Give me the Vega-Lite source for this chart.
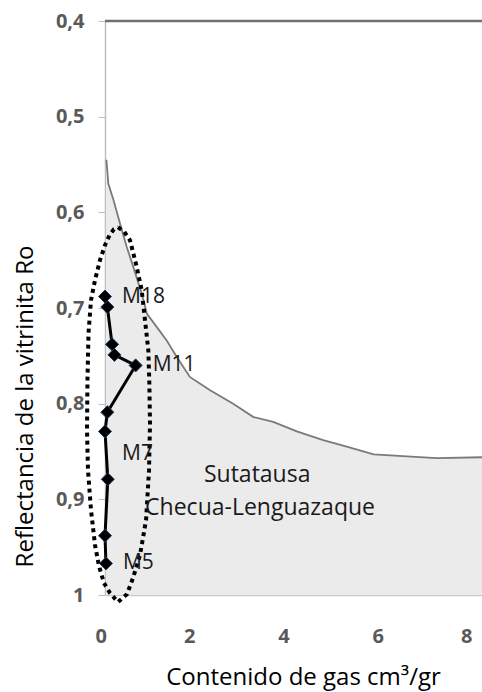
{
  "$schema": "https://vega.github.io/schema/vega-lite/v6.json",
  "width": 377,
  "height": 574,
  "autosize": "none",
  "padding": {"left": 105, "top": 21, "right": 0, "bottom": 97},
  "config": {
    "view": {"stroke": null},
    "font": "Open Sans",
    "locale": {"number": {"decimal": ",", "thousands": ".", "grouping": [3], "currency": ["", " €"]}}
  },
  "datasets": {
    "curve": [
      {"gas": 0.03, "ro": 0.545},
      {"gas": 0.07, "ro": 0.570},
      {"gas": 0.18, "ro": 0.587},
      {"gas": 0.32, "ro": 0.612},
      {"gas": 0.46, "ro": 0.636},
      {"gas": 0.60, "ro": 0.657},
      {"gas": 0.78, "ro": 0.685},
      {"gas": 0.89, "ro": 0.706},
      {"gas": 1.10, "ro": 0.720},
      {"gas": 1.31, "ro": 0.734},
      {"gas": 1.52, "ro": 0.751},
      {"gas": 1.80, "ro": 0.772},
      {"gas": 2.23, "ro": 0.786},
      {"gas": 2.72, "ro": 0.800},
      {"gas": 3.15, "ro": 0.814},
      {"gas": 3.57, "ro": 0.819},
      {"gas": 4.07, "ro": 0.829},
      {"gas": 4.63, "ro": 0.838},
      {"gas": 5.13, "ro": 0.845},
      {"gas": 5.70, "ro": 0.853},
      {"gas": 6.41, "ro": 0.855},
      {"gas": 7.04, "ro": 0.857},
      {"gas": 8.0, "ro": 0.856}
    ],
    "ellipse": [
      {"i": 1, "gas": 0.276, "ro": 0.6156},
      {"i": 2, "gas": 0.403, "ro": 0.6199},
      {"i": 3, "gas": 0.531, "ro": 0.6293},
      {"i": 4, "gas": 0.673, "ro": 0.6571},
      {"i": 5, "gas": 0.779, "ro": 0.6814},
      {"i": 6, "gas": 0.849, "ro": 0.7128},
      {"i": 7, "gas": 0.919, "ro": 0.7441},
      {"i": 8, "gas": 0.941, "ro": 0.7786},
      {"i": 9, "gas": 0.955, "ro": 0.8204},
      {"i": 10, "gas": 0.934, "ro": 0.8695},
      {"i": 11, "gas": 0.871, "ro": 0.9217},
      {"i": 12, "gas": 0.743, "ro": 0.9583},
      {"i": 13, "gas": 0.594, "ro": 0.9823},
      {"i": 14, "gas": 0.467, "ro": 0.9991},
      {"i": 15, "gas": 0.276, "ro": 1.0074},
      {"i": 16, "gas": 0.106, "ro": 0.9980},
      {"i": 17, "gas": -0.021, "ro": 0.9876},
      {"i": 18, "gas": -0.127, "ro": 0.9698},
      {"i": 19, "gas": -0.212, "ro": 0.9478},
      {"i": 20, "gas": -0.297, "ro": 0.9113},
      {"i": 21, "gas": -0.361, "ro": 0.8695},
      {"i": 22, "gas": -0.382, "ro": 0.8276},
      {"i": 23, "gas": -0.372, "ro": 0.7754},
      {"i": 24, "gas": -0.350, "ro": 0.7263},
      {"i": 25, "gas": -0.297, "ro": 0.6918},
      {"i": 26, "gas": -0.212, "ro": 0.6709},
      {"i": 27, "gas": -0.106, "ro": 0.6500},
      {"i": 28, "gas": 0.0, "ro": 0.6343},
      {"i": 29, "gas": 0.106, "ro": 0.6228},
      {"i": 30, "gas": 0.191, "ro": 0.6176},
      {"i": 31, "gas": 0.276, "ro": 0.6156}
    ],
    "samples": [
      {"gas": 0.0, "ro": 0.688},
      {"gas": 0.05, "ro": 0.699},
      {"gas": 0.15, "ro": 0.738},
      {"gas": 0.20, "ro": 0.749},
      {"gas": 0.65, "ro": 0.760},
      {"gas": 0.05, "ro": 0.809},
      {"gas": 0.0, "ro": 0.829},
      {"gas": 0.06, "ro": 0.879},
      {"gas": 0.0, "ro": 0.938},
      {"gas": 0.02, "ro": 0.967}
    ],
    "labels": [
      {"label": "M18", "gas": 0.0, "ro": 0.688},
      {"label": "M11", "gas": 0.65, "ro": 0.760},
      {"label": "M7", "gas": 0.0, "ro": 0.853},
      {"label": "M5", "gas": 0.02, "ro": 0.967}
    ],
    "regions": [
      {"label": "Sutatausa", "gas": 3.23, "ro": 0.8747},
      {"label": "Checua-Lenguazaque", "gas": 3.29, "ro": 0.909}
    ],
    "top": [{"ro": 0.4}]
  },
  "layer": [
    {
      "data": {"name": "curve"},
      "mark": {"type": "area", "color": "#ebebeb", "opacity": 1},
      "encoding": {
        "x": {
          "field": "gas", "type": "quantitative",
          "scale": {"domain": [0, 8], "nice": false, "zero": false},
          "axis": {
            "values": [0, 2, 4, 6, 8], "format": "d", "grid": false,
            "domainColor": "#c8c8c8", "domainWidth": 1.5, "ticks": false,
            "labelPadding": 31, "labelOffset": -10,
            "labelFontSize": 20, "labelFontWeight": "bold", "labelColor": "#595959",
            "title": "Contenido de gas cm³/gr", "titleFontSize": 24, "titleFontWeight": "normal",
            "titleColor": "#000000", "titlePadding": 19, "titleX": 198
          }
        },
        "y": {
          "field": "ro", "type": "quantitative",
          "scale": {"domain": [0.4, 1], "reverse": true, "nice": false, "zero": false},
          "axis": {
            "values": [0.4, 0.5, 0.6, 0.7, 0.8, 0.9, 1], "format": ".1~f", "grid": false,
            "domainColor": "#bfbfbf", "domainWidth": 1.5, "tickColor": "#bfbfbf", "tickSize": 7,
            "labelPadding": 14, "labelFontSize": 20, "labelFontWeight": "bold", "labelColor": "#595959",
            "title": "Reflectancia de la vitrinita Ro", "titleFontSize": 24, "titleFontWeight": "normal",
            "titleColor": "#000000", "titlePadding": 18, "titleY": 385
          }
        },
        "y2": {"datum": 1}
      }
    },
    {
      "data": {"name": "curve"},
      "mark": {"type": "line", "color": "#7a7a7a", "strokeWidth": 1.8},
      "encoding": {
        "x": {"field": "gas", "type": "quantitative"},
        "y": {"field": "ro", "type": "quantitative"}
      }
    },
    {
      "data": {"name": "top"},
      "mark": {"type": "rule", "color": "#707070", "strokeWidth": 2.5},
      "encoding": {"y": {"field": "ro", "type": "quantitative"}}
    },
    {
      "data": {"name": "ellipse"},
      "mark": {"type": "line", "color": "#000000", "strokeWidth": 4, "strokeDash": [4, 4], "strokeCap": "butt"},
      "encoding": {
        "x": {"field": "gas", "type": "quantitative"},
        "y": {"field": "ro", "type": "quantitative"},
        "order": {"field": "i", "type": "quantitative"}
      }
    },
    {
      "data": {"name": "samples"},
      "mark": {"type": "line", "color": "#000000", "strokeWidth": 3},
      "encoding": {
        "x": {"field": "gas", "type": "quantitative"},
        "y": {"field": "ro", "type": "quantitative"},
        "order": {"field": "ro", "type": "quantitative"}
      }
    },
    {
      "data": {"name": "samples"},
      "mark": {"type": "point", "shape": "diamond", "filled": true, "size": 170, "color": "#000000", "opacity": 1, "stroke": "#1f3a5f", "strokeWidth": 1},
      "encoding": {
        "x": {"field": "gas", "type": "quantitative"},
        "y": {"field": "ro", "type": "quantitative"}
      }
    },
    {
      "data": {"name": "labels"},
      "mark": {"type": "text", "align": "left", "baseline": "middle", "dx": 17, "fontSize": 21, "color": "#1a1a1a"},
      "encoding": {
        "x": {"field": "gas", "type": "quantitative"},
        "y": {"field": "ro", "type": "quantitative"},
        "text": {"field": "label"}
      }
    },
    {
      "data": {"name": "regions"},
      "mark": {"type": "text", "align": "center", "baseline": "middle", "fontSize": 23, "color": "#1a1a1a"},
      "encoding": {
        "x": {"field": "gas", "type": "quantitative"},
        "y": {"field": "ro", "type": "quantitative"},
        "text": {"field": "label"}
      }
    }
  ]
}
